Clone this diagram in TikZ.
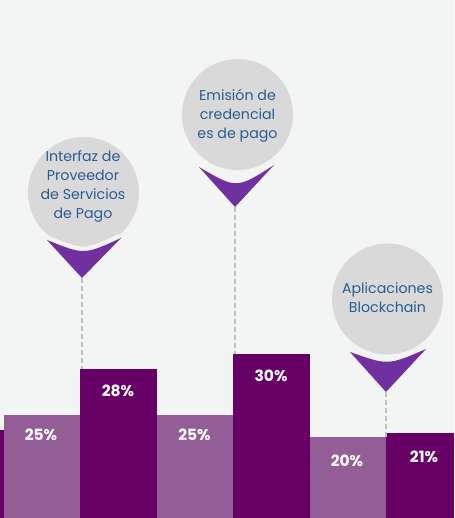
\documentclass[tikz,border=0pt]{standalone}
\usepackage{fontspec}
\setmainfont{Poppins}
\definecolor{bgc}{HTML}{F3F4F4}
\definecolor{darkp}{HTML}{660066}
\definecolor{lightp}{HTML}{935E96}
\definecolor{pinp}{HTML}{7030A0}
\definecolor{pingrey}{HTML}{D9D9D9}
\definecolor{txtblue}{HTML}{285E92}
\definecolor{dashgrey}{HTML}{BFBFBF}
\begin{document}
\begin{tikzpicture}[x=1pt,y=-1pt,
  bar/.style={draw=none,inner sep=0pt,outer sep=0pt,anchor=north west},
  darkbar/.style={bar,fill=darkp},
  lightbar/.style={bar,fill=lightp},
  pct/.style={text=white,font=\bfseries\fontsize{15.5}{18}\selectfont,inner sep=0pt},
  pincircle/.style={circle,fill=pingrey,draw=none,minimum size=111pt,inner sep=0pt},
  pintext/.style={text=txtblue,align=center,font=\fontsize{14.2}{19}\selectfont,inner sep=0pt},
  gapline/.style={draw=bgc,line width=9pt},
  pintri/.style={fill=pinp,draw=none},
  leader/.style={draw=dashgrey,line width=1.6pt,dash pattern=on 5pt off 3pt}]
\fill[bgc] (0,0) rectangle (454,518);
\useasboundingbox (0,0) rectangle (454,518);
% bars
\node[darkbar,minimum width=4pt,minimum height=88pt] (b0) at (0,430) {};
\node[lightbar,minimum width=76pt,minimum height=103pt] (b1) at (4,415) {};
\node[darkbar,minimum width=77pt,minimum height=149pt] (b2) at (80,369) {};
\node[lightbar,minimum width=76pt,minimum height=103pt] (b3) at (157,415) {};
\node[darkbar,minimum width=77pt,minimum height=164pt] (b4) at (233,354) {};
\node[lightbar,minimum width=76pt,minimum height=81pt] (b5) at (310,437) {};
\node[darkbar,minimum width=68pt,minimum height=85pt] (b6) at (386,433) {};
% percentages
\node[pct] (p1) at (41,435) {25\%};
\node[pct] (p2) at (118,391) {28\%};
\node[pct] (p3) at (194.5,435) {25\%};
\node[pct] (p4) at (271,376) {30\%};
\node[pct] (p5) at (347,461) {20\%};
\node[pct] (p6) at (424,457) {21\%};
% pin 1
\node[pincircle] (c1) at (83.5,192.5) {};
\coordinate (l1) at (47,240);
\coordinate (r1) at (121,238);
\coordinate (k1) at (84,255);
\coordinate (a1) at (82,278);
\draw[gapline] (l1) .. controls (k1) .. (r1);
\fill[pintri] (l1) .. controls (k1) .. (r1) -- (a1) -- cycle;
\node[pintext] (t1) at (83,186) {Interfaz de\\Proveedor\\de Servicios\\de Pago};
% pin 2
\node[pincircle] (c2) at (237.5,114.5) {};
\coordinate (l2) at (199,167);
\coordinate (r2) at (274,165);
\coordinate (k2) at (236.5,189);
\coordinate (a2) at (235,207);
\draw[gapline] (l2) .. controls (k2) .. (r2);
\fill[pintri] (l2) .. controls (k2) .. (r2) -- (a2) -- cycle;
\node[pintext] (t2) at (237.5,116) {Emisión de\\credencial\\es de pago};
% pin 3
\node[pincircle] (c3) at (387.5,299) {};
\coordinate (l3) at (350,352);
\coordinate (r3) at (426,349);
\coordinate (k3) at (388,365.5);
\coordinate (a3) at (386,392);
\draw[gapline] (l3) .. controls (k3) .. (r3);
\fill[pintri] (l3) .. controls (k3) .. (r3) -- (a3) -- cycle;
\node[pintext] (t3) at (387.5,297.5) {Aplicaciones\\Blockchain};
% leaders
\draw[leader] (a1) -- (a1 |- b2.north);
\draw[leader] (a2) -- (a2 |- b4.north);
\draw[leader] (a3) -- (a3 |- b5.north);
\end{tikzpicture}
\end{document}
